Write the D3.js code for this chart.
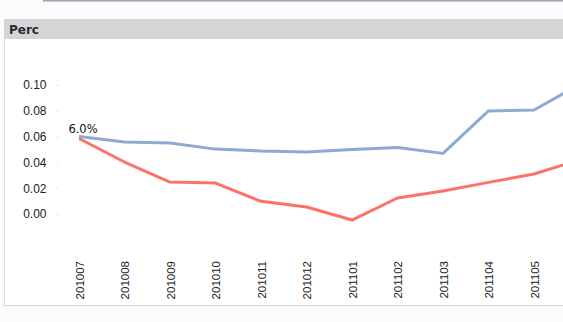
<!DOCTYPE html>
<html><head><meta charset="utf-8">
<script src="https://cdn.jsdelivr.net/npm/d3@7"></script>
<style>
html,body{margin:0;padding:0;background:#fdfafd;}
svg{display:block;}
</style></head>
<body>
<svg id="c" width="563" height="322"></svg>
<script>
const categories = ["201007","201008","201009","201010","201011","201012","201101","201102","201103","201104","201105","201106"];
const blueValues = [0.060,0.0558,0.0551,0.0503,0.0488,0.0481,0.0500,0.0516,0.0470,0.0799,0.0806,0.1004];
const redValues  = [0.0585,0.0403,0.0248,0.0240,0.0098,0.0054,-0.0047,0.0124,0.0178,0.0245,0.0310,0.0420];
const yTicks = [0.00,0.02,0.04,0.06,0.08,0.10];
const firstLabel = "6.0%";
const title = "Perc";

const svg = d3.select("#c");
// top line of the object above
svg.append("rect").attr("x",43).attr("y",0).attr("width",520).attr("height",1.5).attr("fill","#a0a0a8");
// chart frame
svg.append("rect").attr("x",4.5).attr("y",19.5).attr("width",570).attr("height",286).attr("fill","#fff").attr("stroke","#d8d6da");
svg.append("rect").attr("x",4).attr("y",19).attr("width",570).attr("height",20).attr("fill","#d5d5d7");
svg.append("text").attr("x",9).attr("y",33.5).text(title)
  .attr("font-family","DejaVu Sans, sans-serif").attr("font-size",12).attr("font-weight","bold").attr("fill","#2a2a2a");

const x = d3.scalePoint().domain(categories).range([79, 79+45.5*11]);
const y = d3.scaleLinear().domain([0,0.10]).range([214,85]);

const g = svg.append("g");
const yAxis = d3.axisLeft(y).tickValues(yTicks).tickFormat(d3.format(".2f")).tickSize(1).tickPadding(10);
const ya = g.append("g").attr("transform","translate(58,0)").call(yAxis);
ya.select(".domain").remove();
ya.selectAll("line").attr("stroke","#ccc");
ya.selectAll("text").attr("font-family","Liberation Sans, Arial, sans-serif").attr("font-size",12).attr("fill","#222").attr("dx","-0.5");

const visibleCats = categories.filter(c => x(c) < 560);
const xAxis = d3.axisBottom(x).tickValues(visibleCats).tickSize(0).tickPadding(0);
const xa = g.append("g").attr("transform","translate(0,261)").call(xAxis);
xa.select(".domain").remove();
xa.selectAll("text").attr("transform","rotate(-90)").attr("text-anchor","end")
  .attr("x",0).attr("y",0).attr("dy","0.35em")
  .attr("font-family","Liberation Sans, Arial, sans-serif").attr("font-size",11.5).attr("fill","#222");

const clip = svg.append("clipPath").attr("id","cl").append("rect").attr("x",0).attr("y",39).attr("width",563).attr("height",266);
const line = d3.line().x((d,i)=>x(categories[i])).y(d=>y(d));
const lg = svg.append("g").attr("clip-path","url(#cl)");
lg.append("path").datum(blueValues).attr("d",line).attr("fill","none").attr("stroke","#8eaad4").attr("stroke-width",3).attr("stroke-linejoin","round");
lg.append("path").datum(redValues).attr("d",line).attr("fill","none").attr("stroke","#fd7268").attr("stroke-width",3).attr("stroke-linejoin","round");

svg.append("text").attr("x",x(categories[0])+4).attr("y",y(blueValues[0])-4).attr("text-anchor","middle")
  .text(firstLabel).attr("font-family","DejaVu Sans, sans-serif").attr("font-size",11.5).attr("fill","#111");
</script>
</body></html>
